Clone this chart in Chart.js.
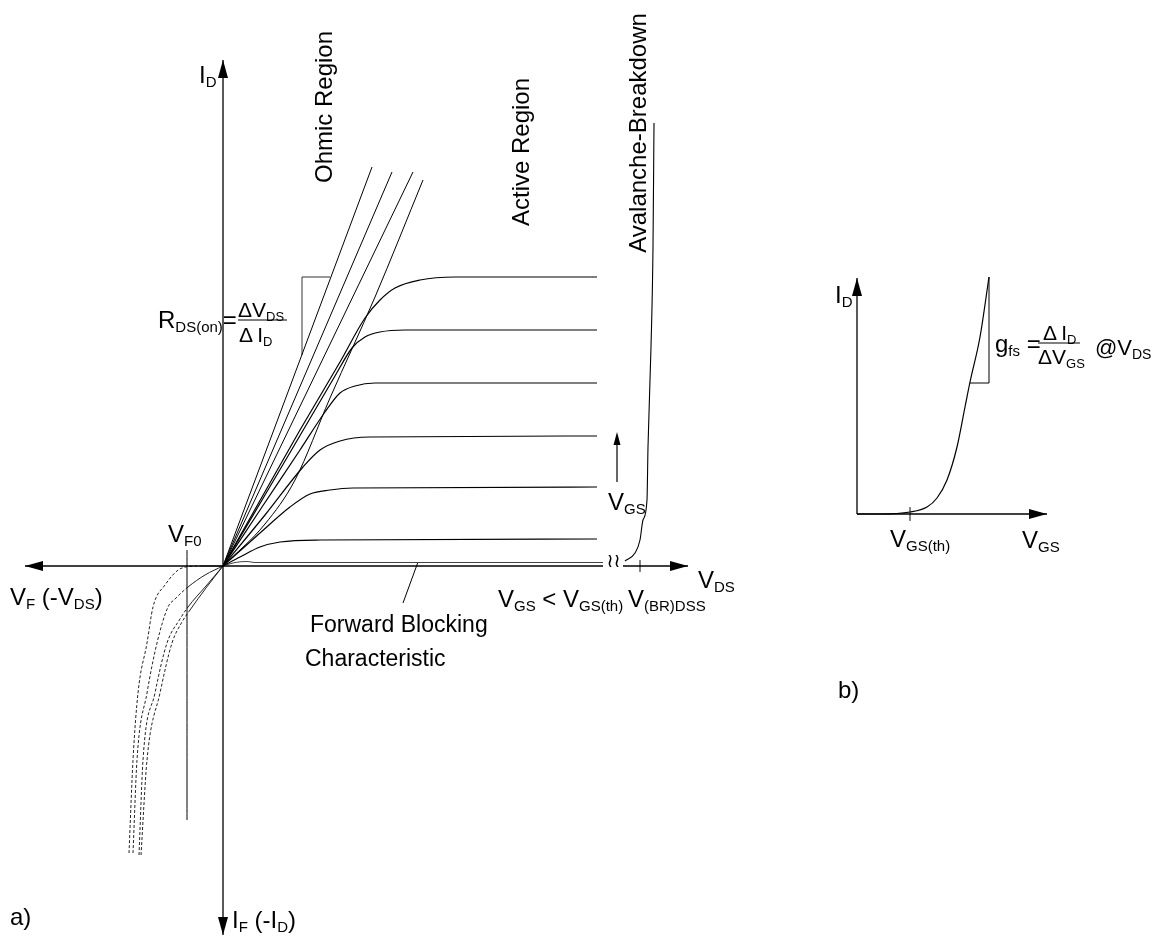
<!DOCTYPE html>
<html>
<head>
<meta charset="utf-8">
<script src="https://cdn.jsdelivr.net/npm/chart.js@4.4.1/dist/chart.umd.min.js"></script>
<style>
  body { margin: 0; background: #fff; }
  #chartA { position: absolute; left: 0; top: 0; }
  #chartB { position: absolute; left: 780px; top: 0; }
</style>
</head>
<body>
<canvas id="chartA" width="760" height="944"></canvas>
<canvas id="chartB" width="377" height="944"></canvas>
<script>
// ---- a) output characteristic I_D(V_DS), arbitrary units ----
const curveVgs1 = [[0,0],[3.9,6.9],[7.7,13.6],[11.7,20.4],[14.2,24.8],[15.7,26.6],[17.2,27.8],[19.7,28.6],[23.2,28.9],[37.4,28.9]];
const curveVgs2 = [[0,0],[4.2,7.1],[8.2,13.9],[11.2,19.0],[12.9,21.8],[14.2,22.9],[15.7,23.4],[18.2,23.6],[37.4,23.6]];
const curveVgs3 = [[0,0],[3.9,5.9],[7.7,11.6],[10.2,15.4],[11.7,17.3],[13.2,18.0],[15.2,18.3],[37.4,18.3]];
const curveVgs4 = [[0,0],[4.2,5.1],[8.0,9.9],[9.7,11.6],[11.7,12.5],[14.7,12.9],[37.4,13.0]];
const curveVgs5 = [[0,0],[3.7,3.3],[6.7,5.9],[8.7,7.2],[10.7,7.6],[13.0,7.8],[37.4,7.9]];
const curveVgs6 = [[0,0],[1.7,0.9],[3.7,1.9],[5.7,2.4],[9.7,2.6],[37.4,2.7]];
const curveBlocking = [[0,0],[1.2,0.35],[2.4,0.45],[2.8,0.4],[3.2,0.35],[38,0.35]];
const ohmicLines = [[14.9,39.9],[16.9,39.4],[19.0,39.4]];
const kneeLine = [[0,0],[4.2,4.2],[7.2,8.6],[10.7,16.8],[15.2,26.9],[20.0,38.6]];
const avalanche = [[40.2,0.5],[41.2,1.3],[41.7,2.6],[42.0,4.6],[42.4,6.6],[42.5,11.9],[42.8,21.9],[43.0,31.9],[43.1,44.3]];
// reverse (diode) curves, third quadrant, listed left to right
const reverse1 = [[-9.4,-28.7],[-9.0,-19.4],[-8.5,-12.7],[-7.6,-7.7],[-7.0,-4.1],[-5.8,-1.9],[-4.1,-0.2],[-2.3,0],[0,0]];
const reverse2 = [[-9.0,-28.7],[-8.6,-19.4],[-7.6,-12.7],[-6.6,-7.7],[-5.5,-4.1],[-4.8,-3.3],[-3.5,-2.1],[-1.8,-0.9],[0,0]];
const reverse3 = [[-8.4,-28.9],[-8.0,-19.4],[-6.8,-12.7],[-5.6,-7.7],[-4.3,-5.3],[-3.5,-4.1],[-1.7,-2.0],[0,0]];
const reverse4 = [[-8.2,-28.9],[-7.6,-19.4],[-6.3,-12.7],[-5.1,-7.7],[-4.1,-5.6],[-3.3,-4.4],[-1.7,-2.2],[0,0]];
const vF0 = -3.6;
const vBrDss = 41.7;

// ---- b) transfer characteristic I_D(V_GS) ----
const transfer = [[0,0],[2.3,0],[5.3,0.2],[7.0,0.7],[8.0,1.6],[9.0,3.4],[10.0,6.7],[10.8,10.7],[11.3,13.2],[12.3,17.7],[13.2,23.7]];
const vGsTh = 5.3;

const FONT = '"Liberation Sans", Arial, Helvetica, sans-serif';

function pts(arr) { return arr.map(([x, y]) => ({ x, y })); }

function line(arr, extra) {
  return Object.assign({
    data: pts(arr),
    showLine: true,
    borderColor: '#000',
    borderWidth: 1.2,
    pointRadius: 0,
    fill: false,
    cubicInterpolationMode: 'monotone'
  }, extra || {});
}

// text labels with subscripts, anchored in data units
const labelsA = [
  { at: [-2.4, 48.3], runs: [['I'], ['D', 1]] },
  { at: [10.0, 45.9], rot: -90, center: true, runs: [['Ohmic Region']] },
  { at: [29.7, 41.4], rot: -90, center: true, runs: [['Active Region']] },
  { at: [41.4, 43.3], rot: -90, center: true, runs: [['Avalanche-Breakdown']] },
  { at: [-6.5, 23.8], runs: [['R'], ['DS(on)', 1], ['=']] },
  { at: [1.5, 24.9], size: 21, runs: [['\u0394V'], ['DS', 1]] },
  { at: [1.6, 22.4], size: 21, runs: [['\u0394\u2009I'], ['D', 1]] },
  { at: [-5.5, 2.4], runs: [['V'], ['F0', 1]] },
  { at: [-21.3, -3.9], runs: [['V'], ['F', 1], [' (-V'], ['DS', 1], [')']] },
  { at: [47.5, -2.2], runs: [['V'], ['DS', 1]] },
  { at: [27.5, -4.1], runs: [['V'], ['GS', 1], [' < V'], ['GS(th)', 1]] },
  { at: [40.5, -4.1], runs: [['V'], ['(BR)DSS', 1]] },
  { at: [38.5, 5.6], runs: [['V'], ['GS', 1]] },
  { at: [8.7, -6.6], size: 23, runs: [['Forward Blocking']] },
  { at: [8.2, -10.0], size: 23, runs: [['Characteristic']] },
  { at: [-21.3, -35.9], runs: [['a)']] },
  { at: [0.9, -36.2], runs: [['I'], ['F', 1], [' (-I'], ['D', 1], [')']] },
  { at: [39.05, 0.6], size: 19, center: true, font: '"DejaVu Sans", sans-serif', runs: [['\u2240\u2240']] }
];
const arrowsA = [
  { at: [-19.8, 0], dir: 'left' },
  { at: [46.5, 0], dir: 'right' },
  { at: [0, 50.6], dir: 'up' },
  { at: [0, -36.9], dir: 'down' },
  { at: [39.4, 13.4], dir: 'up', len: 13, half: 3.5 }
];

const labelsB = [
  { at: [-2.2, 21.1], runs: [['I'], ['D', 1]] },
  { at: [13.8, 16.2], runs: [['g'], ['fs', 1], [' =']] },
  { at: [18.6, 17.4], size: 21, runs: [['\u0394\u2009I'], ['D', 1]] },
  { at: [18.1, 15.0], size: 21, runs: [['\u0394V'], ['GS', 1]] },
  { at: [23.8, 15.9], size: 22, runs: [['@V'], ['DS', 1]] },
  { at: [3.3, -3.3], runs: [['V'], ['GS(th)', 1]] },
  { at: [16.5, -3.4], runs: [['V'], ['GS', 1]] },
  { at: [-1.9, -18.4], runs: [['b)']] }
];
const arrowsB = [
  { at: [0, 23.6], dir: 'up' },
  { at: [19, 0], dir: 'right' }
];

const annotate = {
  id: 'annotate',
  afterDatasetsDraw(chart, args, opts) {
    const ctx = chart.ctx;
    const xs = chart.scales.x, ys = chart.scales.y;
    ctx.save();
    ctx.fillStyle = '#000';
    (opts.arrows || []).forEach(a => {
      const px = xs.getPixelForValue(a.at[0]), py = ys.getPixelForValue(a.at[1]);
      const len = a.len || 18, half = a.half || 5;
      const ang = { right: 0, left: Math.PI, up: -Math.PI / 2, down: Math.PI / 2 }[a.dir];
      ctx.save();
      ctx.translate(px, py);
      ctx.rotate(ang);
      ctx.beginPath();
      ctx.moveTo(0, 0);
      ctx.lineTo(-len, -half);
      ctx.lineTo(-len, half);
      ctx.closePath();
      ctx.fill();
      ctx.restore();
    });
    (opts.labels || []).forEach(lab => {
      const px = xs.getPixelForValue(lab.at[0]), py = ys.getPixelForValue(lab.at[1]);
      const size = lab.size || 24, sub = Math.round(size * 0.64);
      const fam = lab.font || FONT;
      ctx.save();
      ctx.translate(px, py);
      if (lab.rot) ctx.rotate(lab.rot * Math.PI / 180);
      ctx.textBaseline = 'alphabetic';
      ctx.textAlign = 'left';
      let w = 0;
      lab.runs.forEach(([t, s]) => { ctx.font = (s ? sub : size) + 'px ' + fam; w += ctx.measureText(t).width; });
      let x = lab.center ? -w / 2 : 0;
      const y0 = lab.center ? size * 0.36 : 0;
      lab.runs.forEach(([t, s]) => {
        ctx.font = (s ? sub : size) + 'px ' + fam;
        ctx.fillText(t, x, y0 + (s ? size * 0.17 : 0));
        x += ctx.measureText(t).width;
      });
      ctx.restore();
    });
    ctx.restore();
  }
};

function baseOptions(xr, yr, labels, arrows) {
  return {
    responsive: false,
    animation: false,
    devicePixelRatio: 1,
    layout: { padding: 0 },
    scales: {
      x: { type: 'linear', min: xr[0], max: xr[1], display: false },
      y: { type: 'linear', min: yr[0], max: yr[1], display: false }
    },
    plugins: {
      legend: { display: false },
      tooltip: { enabled: false },
      annotate: { labels, arrows }
    }
  };
}

const dashLeft = { segment: { borderDash: c => (c.p0.parsed.x < vF0 - 0.2 ? [3, 2] : undefined) }, borderWidth: 1, borderColor: '#222' };

new Chart(document.getElementById('chartA'), {
  type: 'scatter',
  data: {
    datasets: [
      line([[0, -36.9], [0, 50.6]], { borderWidth: 1.3 }),
      line([[-19.8, 0], [38, 0]], { borderWidth: 1.3 }),
      line([[40, 0], [46.5, 0]], { borderWidth: 1.3 }),
      line([[vBrDss, -0.6], [vBrDss, 0.6]], { borderWidth: 1 }),
      line([[vF0, 1.6], [vF0, -25.4]], { borderWidth: 1 }),
      line(curveVgs1), line(curveVgs2), line(curveVgs3),
      line(curveVgs4), line(curveVgs5), line(curveVgs6),
      line(curveBlocking, { borderColor: '#444', borderWidth: 1 }),
      ...ohmicLines.map(p => line([[0, 0], p], { borderWidth: 1 })),
      line(kneeLine, { borderWidth: 1 }),
      line(avalanche, { borderWidth: 1.1 }),
      line(reverse1, dashLeft), line(reverse2, dashLeft),
      line(reverse3, dashLeft), line(reverse4, dashLeft),
      line([[7.9, 21.1], [7.9, 28.9], [10.7, 28.9]], { borderWidth: 1, borderColor: '#333', cubicInterpolationMode: 'default', tension: 0 }),
      line([[1.5, 24.6], [6.4, 24.6]], { borderWidth: 1 }),
      line([[18.0, -3.7], [19.5, 0.4]], { borderWidth: 1 }),
      line([[39.4, 8.4], [39.4, 12.4]], { borderWidth: 1.2 })
    ]
  },
  options: baseOptions([-22.3, 53.7], [-37.8, 56.6], labelsA, arrowsA),
  plugins: [annotate]
});

new Chart(document.getElementById('chartB'), {
  type: 'scatter',
  data: {
    datasets: [
      line([[0, 0], [0, 23.6]], { borderWidth: 1.3 }),
      line([[0, 0], [19, 0]], { borderWidth: 1.3 }),
      line([[vGsTh, -0.7], [vGsTh, 0.7]], { borderWidth: 1 }),
      line(transfer),
      line([[11.3, 13.1], [13.2, 13.1], [13.2, 23.7]], { borderWidth: 1, cubicInterpolationMode: 'default', tension: 0 }),
      line([[18.1, 17.1], [22.3, 17.1]], { borderWidth: 1 })
    ]
  },
  options: baseOptions([-7.7, 30], [-43, 51.4], labelsB, arrowsB),
  plugins: [annotate]
});
</script>
</body>
</html>
